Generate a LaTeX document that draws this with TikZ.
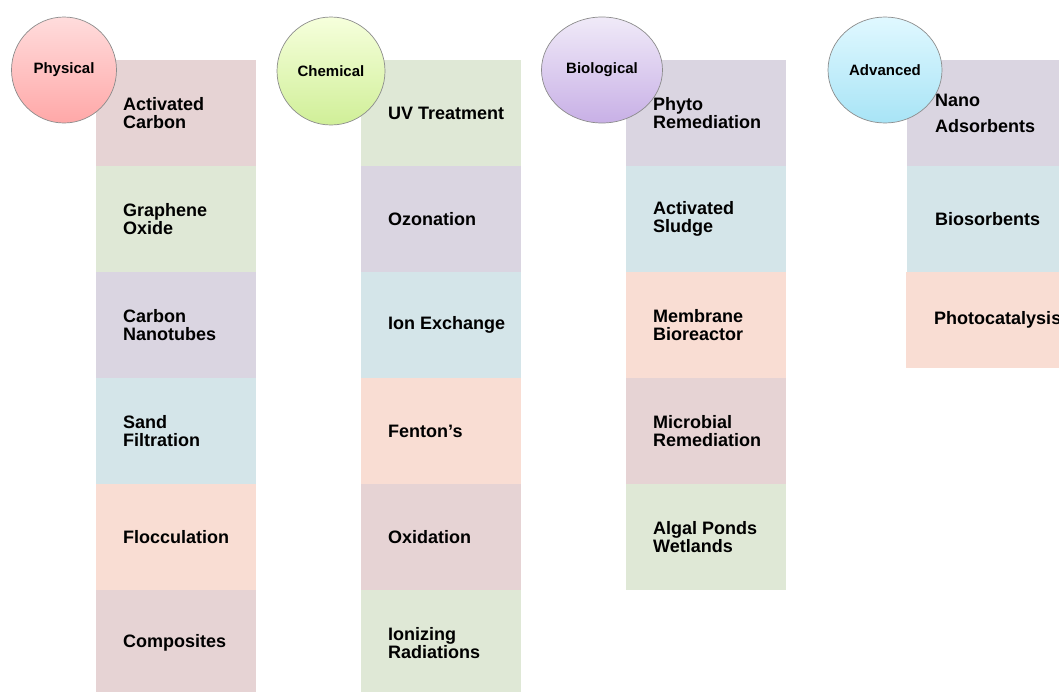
\documentclass[tikz,border=0pt]{standalone}
\usepackage{fontspec}
\setmainfont{Liberation Sans}
\usetikzlibrary{shapes.geometric}
\usetikzlibrary{positioning}
\definecolor{rosebox}{HTML}{E6D3D4}
\definecolor{sagebox}{HTML}{DFE8D6}
\definecolor{lilacbox}{HTML}{DAD5E1}
\definecolor{icebox}{HTML}{D4E5E9}
\definecolor{peachbox}{HTML}{F9DDD3}
\definecolor{rimgray}{HTML}{8C8C8C}
\definecolor{physhi}{HTML}{FFDCDC}
\definecolor{physlo}{HTML}{FFA8A8}
\definecolor{chemhi}{HTML}{F6FFDC}
\definecolor{chemlo}{HTML}{D0EF98}
\definecolor{biohi}{HTML}{F0EAF8}
\definecolor{biolo}{HTML}{C8B0E6}
\definecolor{advhi}{HTML}{E0F8FF}
\definecolor{advlo}{HTML}{A8E4F6}

\begin{document}
\begin{tikzpicture}[x=1pt, y=-1pt,
  cell/.style={inner sep=0, minimum width=160pt, minimum height=106pt, anchor=north west},
  item/.style={inner sep=0, anchor=west, align=left, font=\fontsize{18}{18}\selectfont\bfseries},
  group/.style={ellipse, inner sep=0, draw=rimgray, line width=.7pt, font=\fontsize{15}{15}\selectfont\bfseries}]
\useasboundingbox (0,0) rectangle (1059,691);
\clip (0,0) rectangle (1059,691);
% physical
\node[cell, fill=rosebox] (p1) at (96,60) {};
\node[cell, fill=sagebox] (p2) at (96,166) {};
\node[cell, fill=lilacbox] (p3) at (96,272) {};
\node[cell, fill=icebox] (p4) at (96,378) {};
\node[cell, fill=peachbox] (p5) at (96,484) {};
\node[cell, fill=rosebox] (p6) at (96,590) {};
\node[item, right=27pt of p1.west] (tp1) {Activated\\Carbon};
\node[item, right=27pt of p2.west] (tp2) {Graphene\\Oxide};
\node[item, right=27pt of p3.west] (tp3) {Carbon\\Nanotubes};
\node[item, right=27pt of p4.west] (tp4) {Sand\\Filtration};
\node[item, right=27pt of p5.west] (tp5) {Flocculation};
\node[item, right=27pt of p6.west] (tp6) {Composites};
% chemical
\node[cell, fill=sagebox] (c1) at (361,60) {};
\node[cell, fill=lilacbox] (c2) at (361,166) {};
\node[cell, fill=icebox] (c3) at (361,272) {};
\node[cell, fill=peachbox] (c4) at (361,378) {};
\node[cell, fill=rosebox] (c5) at (361,484) {};
\node[cell, fill=sagebox] (c6) at (361,590) {};
\node[item, right=27pt of c1.west] (tc1) {UV Treatment};
\node[item, right=27pt of c2.west] (tc2) {Ozonation};
\node[item, right=27pt of c3.west] (tc3) {Ion Exchange};
\node[item, right=27pt of c4.west] (tc4) {Fenton’s};
\node[item, right=27pt of c5.west] (tc5) {Oxidation};
\node[item, right=27pt of c6.west] (tc6) {Ionizing\\Radiations};
% biological
\node[cell, fill=lilacbox] (b1) at (626,60) {};
\node[cell, fill=icebox] (b2) at (626,166) {};
\node[cell, fill=peachbox] (b3) at (626,272) {};
\node[cell, fill=rosebox] (b4) at (626,378) {};
\node[cell, fill=sagebox] (b5) at (626,484) {};
\node[item, right=27pt of b1.west] (tb1) {Phyto\\Remediation};
\node[item, right=27pt of b2.west] (tb2) {Activated\\Sludge};
\node[item, right=27pt of b3.west] (tb3) {Membrane\\Bioreactor};
\node[item, right=27pt of b4.west] (tb4) {Microbial\\Remediation};
\node[item, right=27pt of b5.west] (tb5) {Algal Ponds\\Wetlands};
% advanced
\node[cell, fill=lilacbox] (a1) at (907,60) {};
\node[cell, fill=icebox] (a2) at (907,166) {};
\node[cell, fill=peachbox, minimum height=96pt] (a3) at (906,272) {};
\node[item, right=28pt of a1.west] (ta1) {Nano\\[8pt]Adsorbents};
\node[item, right=28pt of a2.west] (ta2) {Biosorbents};
\node[item, right=28pt of a3.west] (ta3) {Photocatalysis};
% headers
\node[group, minimum width=105pt, minimum height=106pt, top color=physhi, bottom color=physlo] (phys) at (64,70) {Physical};
\node[group, minimum width=108pt, minimum height=108pt, top color=chemhi, bottom color=chemlo] (chem) at (331,71) {Chemical};
\node[group, minimum width=121pt, minimum height=106pt, top color=biohi, bottom color=biolo] (bio) at (602,70) {Biological};
\node[group, minimum width=114pt, minimum height=106pt, top color=advhi, bottom color=advlo] (adv) at (885,70) {Advanced};
\end{tikzpicture}
\end{document}
